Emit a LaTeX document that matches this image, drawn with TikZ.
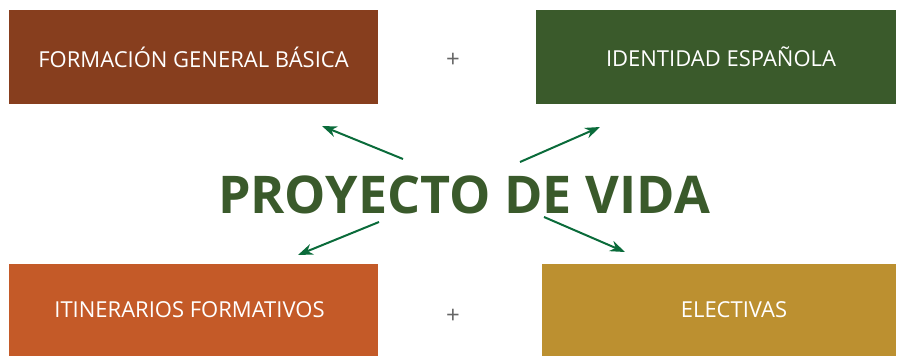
\documentclass[tikz,border=0pt]{standalone}
\usepackage{fontspec}
\setmainfont{Open Sans}
\usetikzlibrary{arrows.meta}

\definecolor{cafe}{HTML}{873E1E}
\definecolor{verde}{HTML}{3A5A2B}
\definecolor{naranja}{HTML}{C45A28}
\definecolor{dorado}{HTML}{BC9030}
\definecolor{flecha}{HTML}{0A6B3A}

\begin{document}
\begin{tikzpicture}[
  x=1pt, y=-1pt,
  caja/.style={minimum height=94pt, inner sep=0pt, text=white,
    font=\fontsize{22}{24}\selectfont},
  mas/.style={text=black!60, font=\fontsize{24}{24}\selectfont},
  e/.style={-{Stealth[length=15pt, width=11pt]}, flecha, line width=2pt}
]
\useasboundingbox (0,0) rectangle (897,356);

\node[caja, fill=cafe, minimum width=369pt] (fgb) at (193.5,57) {FORMACIÓN GENERAL BÁSICA};
\node[caja, fill=verde, minimum width=360pt] (ide) at (716,57) {\hspace*{10pt}IDENTIDAD ESPAÑOLA};
\node[caja, fill=naranja, minimum width=369pt, minimum height=92pt] (itf) at (193.5,310) {ITINERARIOS FORMATIVOS\hspace*{8pt}};
\node[caja, fill=dorado, minimum width=354pt, minimum height=92pt] (ele) at (719,310) {\hspace*{30pt}ELECTIVAS};

\node[mas] (m1) at (453,60) {+};
\node[mas] (m2) at (453,316) {+};

\node[text=verde, font=\bfseries\fontsize{52}{52}\selectfont, inner sep=0pt] (pv) at (464,195) {PROYECTO DE VIDA};

\coordinate (s1) at (403,159);
\coordinate (s2) at (520,162);
\coordinate (s3) at (379,222);
\coordinate (s4) at (544,217);
\coordinate (t1) at (322,126);
\coordinate (t2) at (600,127);
\coordinate (t3) at (298,255);
\coordinate (t4) at (625,252);

\draw[e] (s1) -- (t1);
\draw[e] (s2) -- (t2);
\draw[e] (s3) -- (t3);
\draw[e] (s4) -- (t4);
\end{tikzpicture}
\end{document}
